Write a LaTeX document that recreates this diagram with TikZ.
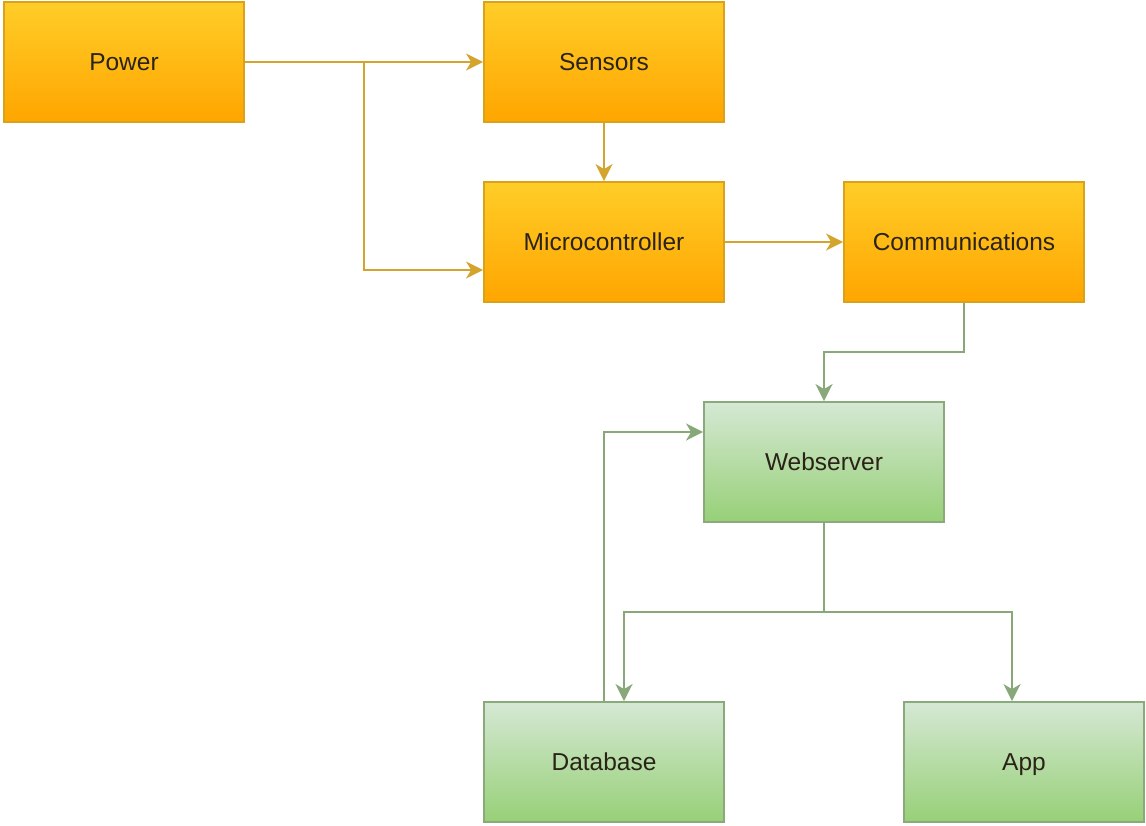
\documentclass[tikz,border=0pt]{standalone}
\usepackage{fontspec}
\setmainfont{Liberation Sans}
\usetikzlibrary{arrows.meta,positioning,calc}
\definecolor{otop}{HTML}{FFCD28}
\definecolor{obot}{HTML}{FFA500}
\definecolor{oline}{HTML}{D9A21B}
\definecolor{oedge}{HTML}{D4A52E}
\definecolor{gtop}{HTML}{D5E8D4}
\definecolor{gbot}{HTML}{97D077}
\definecolor{gline}{HTML}{8BAA7C}
\definecolor{gedge}{HTML}{88A87A}
\definecolor{txt}{HTML}{2A2418}
\tikzset{
  box/.style={rectangle, minimum width=240pt, minimum height=120pt, inner sep=0pt,
    line width=1.8pt, font=\fontsize{24.5}{28}\selectfont, text=txt,
    text height=17pt, text depth=1pt},
  obox/.style={box, draw=oline, top color=otop, bottom color=obot},
  gbox/.style={box, draw=gline, top color=gtop, bottom color=gbot},
  tip/.style={-{Stealth[length=17pt,width=17pt,inset=5pt]}},
  oconn/.style={draw=oedge, line width=2.4pt, tip, color=oedge},
  gconn/.style={draw=gedge, line width=2.4pt, tip, color=gedge},
}
\begin{document}
\begin{tikzpicture}[x=1pt,y=-1pt]
\useasboundingbox[fill=white] (0,0) rectangle (1146,825);
\node[obox] (power) at (124,62) {Power};
\node[obox] (sens) at (604,62) {Sensors};
\node[obox] (mc) at (604,242) {Microcontroller};
\node[obox] (comm) at (964,242) {Communications};
\node[gbox] (web) at (824,462) {Webserver};
\node[gbox] (db) at (604,762) {Database};
\node[gbox] (app) at (1024,762) {App};
\coordinate (br) at (364,62);
\draw[oconn] (power.east) -- (sens.west);
\draw[oconn] (br) |- (mc.west |- 0,270);
\draw[oconn] (sens.south) -- (mc.north);
\draw[oconn] (mc.east) -- (comm.west);
\draw[gconn] (comm.south) -- (comm.south |- 0,352) -| (web.north);
\draw[gconn] (web.south) -- (web.south |- 0,612) -| (db.north -| 624,0);
\draw[gconn] (web.south |- 0,612) -| (app.north -| 1012,0);
\draw[gconn] (db.north) |- (web.west |- 0,432);
\end{tikzpicture}
\end{document}
